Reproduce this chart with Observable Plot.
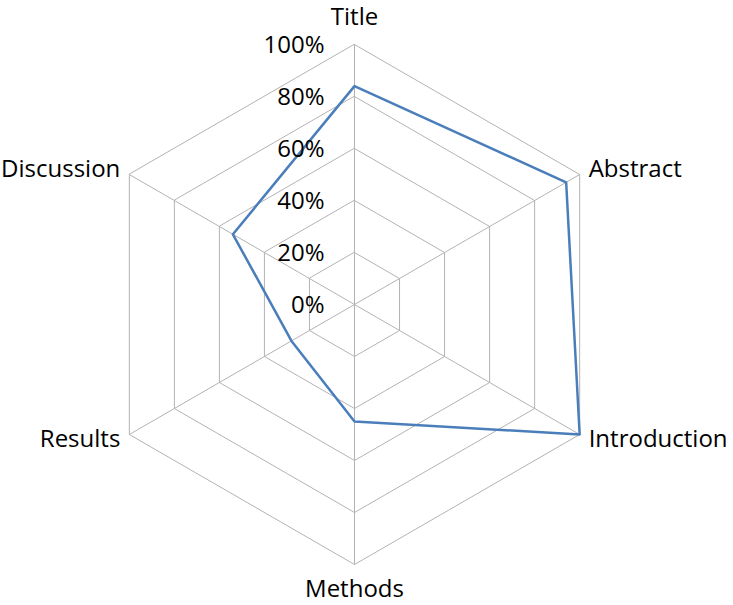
<!DOCTYPE html>
<html>
<head>
<meta charset="utf-8">
<script src="https://cdn.jsdelivr.net/npm/d3@7"></script>
<script src="https://cdn.jsdelivr.net/npm/@observablehq/plot@0.6"></script>
<style>
  html, body { margin: 0; padding: 0; background: #fff; }
  #chart svg { display: block; }
</style>
</head>
<body>
<div id="chart"></div>
<script>
// ---- data ----
const categories = ["Title", "Abstract", "Introduction", "Methods", "Results", "Discussion"];
const values = [0.84, 0.94, 1.00, 0.45, 0.28, 0.54];
const levels = [0.2, 0.4, 0.6, 0.8, 1.0];
const tickValues = [0, 0.2, 0.4, 0.6, 0.8, 1.0];
const tickLabels = ["0%", "20%", "40%", "60%", "80%", "100%"];

// ---- layout ----
const W = 733, H = 605;
const cx = 354, cy = 304, R = 260;
const n = categories.length;
const ang = i => (i * 2 * Math.PI) / n;
const px = (i, r) => r * Math.sin(ang(i));
const py = (i, r) => r * Math.cos(ang(i));

const gridPts = levels.flatMap(l => categories.map((c, i) => ({level: l, x: px(i, l), y: py(i, l)})));
const spokes = categories.map((c, i) => ({x: px(i, 1), y: py(i, 1)}));
const dataPts = categories.map((c, i) => ({cat: c, x: px(i, values[i]), y: py(i, values[i])}));
const ticks = tickValues.map((v, k) => ({v, label: tickLabels[k]}));

// label offsets (dx, dy, anchor)
const labelStyle = [
  {dx: 0, dy: -27, anchor: "middle"},
  {dx: 9, dy: -5, anchor: "start"},
  {dx: 9, dy: 5, anchor: "start"},
  {dx: 0, dy: 25, anchor: "middle"},
  {dx: -9, dy: 5, anchor: "end"},
  {dx: -9, dy: -5, anchor: "end"}
];
const labels = categories.map((c, i) => ({cat: c, x: px(i, 1), y: py(i, 1), ...labelStyle[i]}));

const font = "'Open Sans', sans-serif";

const chart = Plot.plot({
  width: W,
  height: H,
  margin: 0,
  x: {domain: [-cx / R, (W - cx) / R], range: [0, W], axis: null},
  y: {domain: [-(H - cy) / R, cy / R], range: [H, 0], axis: null},
  style: {fontFamily: font, background: "#fff"},
  marks: [
    Plot.line(gridPts, {x: "x", y: "y", z: "level", curve: "linear-closed", stroke: "#b3b3b3", strokeWidth: 1}),
    Plot.link(spokes, {x1: () => 0, y1: () => 0, x2: "x", y2: "y", stroke: "#b3b3b3", strokeWidth: 1}),
    Plot.line(dataPts, {x: "x", y: "y", curve: "linear-closed", stroke: "#4a7ebb", strokeWidth: 2.5}),
    Plot.text(ticks, {x: () => 0, y: "v", text: "label", dx: -30, dy: 1, textAnchor: "end", fontSize: 24, fill: "#000", fontFamily: font}),
    ...labels.map(l => Plot.text([l], {x: "x", y: "y", text: "cat", dx: l.dx, dy: l.dy, textAnchor: l.anchor, fontSize: 24, fill: "#000", fontFamily: font}))
  ]
});
document.getElementById("chart").appendChild(chart);
</script>
</body>
</html>
